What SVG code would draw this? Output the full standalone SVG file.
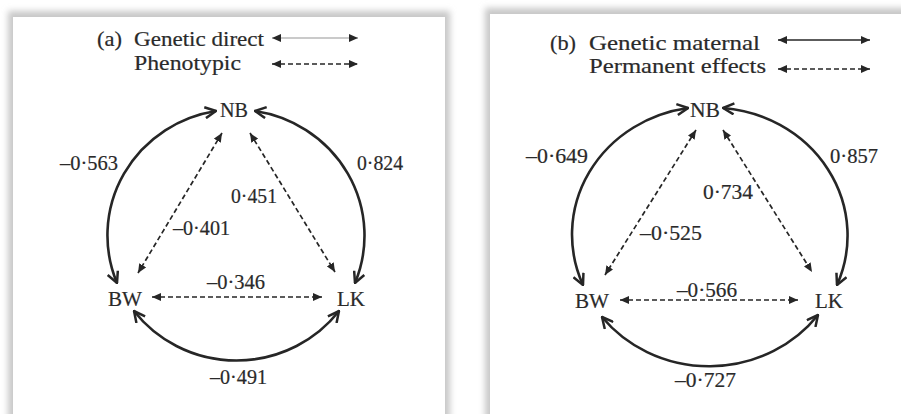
<svg xmlns="http://www.w3.org/2000/svg" width="901" height="414" viewBox="0 0 901 414">
<defs>
  <filter id="sh" x="-10%" y="-10%" width="120%" height="120%">
    <feGaussianBlur stdDeviation="3"/>
  </filter>
  <marker id="chev" viewBox="0 0 13 13" refX="12" refY="6.5" markerWidth="13" markerHeight="13" markerUnits="userSpaceOnUse" orient="auto-start-reverse">
    <path d="M1,1 L12,6.5 L1,12" fill="none" stroke="#262626" stroke-width="2.5" stroke-linejoin="miter"/>
  </marker>
  <marker id="tri" viewBox="0 0 9 8" refX="9" refY="4" markerWidth="9" markerHeight="8" markerUnits="userSpaceOnUse" orient="auto-start-reverse">
    <path d="M0,0 L9,4 L0,8 z" fill="#262626"/>
  </marker>
</defs>
<style>
  text { font-family: "Liberation Serif", "Times New Roman", serif; font-size: 21px; fill: #2a2a2a; stroke: #2a2a2a; stroke-width: 0.2; }
  .arc { fill: none; stroke: #262626; stroke-width: 2.6; marker-start: url(#chev); marker-end: url(#chev); }
  .dash { fill: none; stroke: #262626; stroke-width: 1.7; stroke-dasharray: 5 3; marker-start: url(#tri); marker-end: url(#tri); }
  .leg { fill: none; stroke-width: 1.6; marker-start: url(#tri); marker-end: url(#tri); }
</style>
<rect width="901" height="414" fill="#ffffff"/>
<!-- frames -->
<rect x="8" y="11" width="442" height="420" fill="#c8c8c8" filter="url(#sh)"/>
<rect x="13" y="17" width="432" height="410" fill="#ffffff"/>
<rect x="485" y="8" width="430" height="420" fill="#c8c8c8" filter="url(#sh)"/>
<rect x="490" y="14" width="420" height="410" fill="#ffffff"/>

<g id="panel-a">
  <g id="legend-a">
    <text x="97" y="46" textLength="25" lengthAdjust="spacingAndGlyphs">(a)</text>
    <text x="134" y="46" textLength="130" lengthAdjust="spacingAndGlyphs">Genetic direct</text>
    <text x="134" y="70" textLength="107" lengthAdjust="spacingAndGlyphs">Phenotypic</text>
    <line class="leg" x1="272" y1="38" x2="358" y2="38" stroke="#b8b8b8"/>
    <line class="leg" x1="272" y1="64" x2="358" y2="64" stroke="#262626" stroke-dasharray="5 3"/>
  </g>
  <g id="a-NB"><text x="220" y="117" textLength="28" lengthAdjust="spacingAndGlyphs">NB</text></g>
  <g id="a-BW"><text x="108" y="306" textLength="34" lengthAdjust="spacingAndGlyphs">BW</text></g>
  <g id="a-LK"><text x="337" y="306" textLength="28" lengthAdjust="spacingAndGlyphs">LK</text></g>
  <g id="a-connectors">
    <path class="arc" d="M216,111 A129,126 0 0 0 117,283"/>
    <path class="arc" d="M255,111 A129,126 0 0 1 355,283"/>
    <path class="arc" d="M134,311 A129,126 0 0 0 339,311"/>
    <line class="dash" x1="222" y1="133" x2="138" y2="273"/>
    <line class="dash" x1="250" y1="133" x2="335" y2="272"/>
    <line class="dash" x1="152" y1="297" x2="322" y2="297"/>
  </g>
  <g id="a-labels">
    <text x="60" y="170" textLength="58" lengthAdjust="spacingAndGlyphs">–0·563</text>
    <text x="357" y="170" textLength="46" lengthAdjust="spacingAndGlyphs">0·824</text>
    <text x="231" y="203" textLength="46" lengthAdjust="spacingAndGlyphs">0·451</text>
    <text x="173" y="235" textLength="57" lengthAdjust="spacingAndGlyphs">–0·401</text>
    <text x="207" y="289" textLength="58" lengthAdjust="spacingAndGlyphs">–0·346</text>
    <text x="210" y="384" textLength="57" lengthAdjust="spacingAndGlyphs">–0·491</text>
  </g>
</g>

<g id="panel-b">
  <g id="legend-b">
    <text x="550" y="50" textLength="26" lengthAdjust="spacingAndGlyphs">(b)</text>
    <text x="589" y="50" textLength="171" lengthAdjust="spacingAndGlyphs">Genetic maternal</text>
    <text x="589" y="73" textLength="177" lengthAdjust="spacingAndGlyphs">Permanent effects</text>
    <line class="leg" x1="778" y1="40" x2="870" y2="40" stroke="#262626"/>
    <line class="leg" x1="778" y1="69" x2="870" y2="69" stroke="#262626" stroke-dasharray="5 3"/>
  </g>
  <g id="b-NB"><text x="690" y="117" textLength="30" lengthAdjust="spacingAndGlyphs">NB</text></g>
  <g id="b-BW"><text x="575" y="308" textLength="34" lengthAdjust="spacingAndGlyphs">BW</text></g>
  <g id="b-LK"><text x="815" y="308" textLength="28" lengthAdjust="spacingAndGlyphs">LK</text></g>
  <g id="b-connectors">
    <path class="arc" d="M688,108 A136,128 0 0 0 583,285"/>
    <path class="arc" d="M723,108 A136,128 0 0 1 837,285"/>
    <path class="arc" d="M602,317 A136,128 0 0 0 818,315"/>
    <line class="dash" x1="696" y1="130" x2="605" y2="275"/>
    <line class="dash" x1="723" y1="130" x2="812" y2="272"/>
    <line class="dash" x1="620" y1="300" x2="798" y2="300"/>
  </g>
  <g id="b-labels">
    <text x="526" y="163" textLength="62" lengthAdjust="spacingAndGlyphs">–0·649</text>
    <text x="830" y="163" textLength="48" lengthAdjust="spacingAndGlyphs">0·857</text>
    <text x="703" y="199" textLength="50" lengthAdjust="spacingAndGlyphs">0·734</text>
    <text x="640" y="240" textLength="62" lengthAdjust="spacingAndGlyphs">–0·525</text>
    <text x="677" y="297" textLength="60" lengthAdjust="spacingAndGlyphs">–0·566</text>
    <text x="675" y="387" textLength="61" lengthAdjust="spacingAndGlyphs">–0·727</text>
  </g>
</g>
</svg>
